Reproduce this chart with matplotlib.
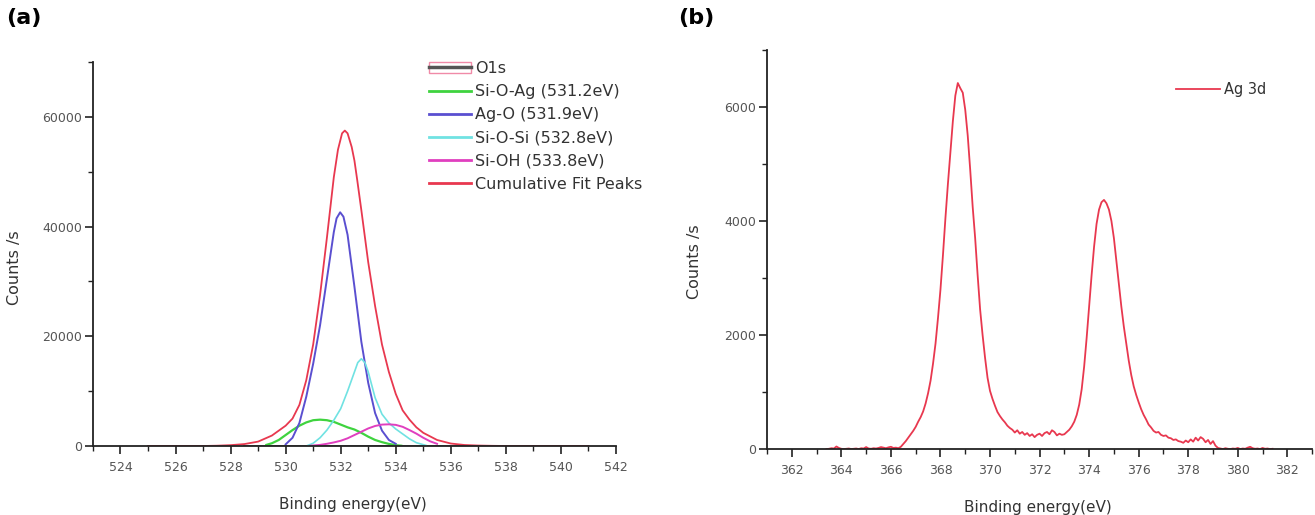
import numpy as np
import matplotlib
matplotlib.use("Agg")
import matplotlib.pyplot as plt
from matplotlib.patches import Patch
from matplotlib.lines import Line2D
from matplotlib.ticker import MultipleLocator

# ---- (a) O1s fit ----
o1s_be = [528.5, 529.5, 530.5, 531.5, 532.5, 533.5, 534.5, 535.5, 536.5]
o1s_counts = [0, 0, 0, 0, 0, 0, 0, 0, 0]

cum_be = [525, 526, 527, 527.5, 528, 528.5, 529, 529.5, 530, 530.25, 530.5, 530.75,
          531, 531.25, 531.5, 531.75, 531.9, 532.05, 532.15, 532.25, 532.4, 532.5,
          532.6, 532.75, 533, 533.25, 533.5, 533.75, 534, 534.25, 534.5, 534.75,
          535, 535.5, 536, 536.5, 537, 537.5, 538, 539, 540, 541]
cum_counts = [0, 0, 0, 50, 150, 350, 800, 1900, 3700, 5000, 7500, 12000,
              18500, 27500, 38000, 49000, 54000, 57000, 57500, 57000, 54500, 52000,
              48500, 43000, 33500, 25500, 18500, 13500, 9500, 6500, 4800, 3400,
              2400, 1100, 450, 180, 80, 30, 0, 0, 0, 0]

sioag_be = [529.3, 529.5, 529.75, 530, 530.25, 530.5, 530.75, 531, 531.25, 531.5,
            531.75, 532, 532.25, 532.5, 532.75, 533, 533.25, 533.5, 533.75, 534, 534.2]
sioag_counts = [200, 500, 1100, 2000, 2900, 3700, 4300, 4700, 4800, 4700,
                4400, 3900, 3400, 3000, 2400, 1700, 1100, 700, 380, 150, 50]

ago_be = [530, 530.25, 530.5, 530.75, 531, 531.25, 531.5, 531.75, 531.85, 531.98,
          532.1, 532.25, 532.5, 532.75, 533, 533.25, 533.5, 533.75, 534]
ago_counts = [300, 1500, 4200, 9000, 15000, 22000, 30500, 39000, 41500, 42600,
              41800, 38500, 29000, 19000, 11500, 6000, 2800, 1100, 400]

siosi_be = [530.8, 531, 531.25, 531.5, 531.75, 532, 532.25, 532.5, 532.62, 532.75,
            532.88, 533, 533.25, 533.5, 533.75, 534, 534.25, 534.5, 534.75, 535.1]
siosi_counts = [100, 500, 1500, 2900, 4700, 6800, 10000, 13500, 15200, 15900,
                15200, 13500, 8800, 5800, 4200, 3100, 2200, 1300, 600, 100]

sioh_be = [530.9, 531.25, 531.5, 531.75, 532, 532.25, 532.5, 532.75, 533, 533.25,
           533.5, 533.75, 534, 534.25, 534.5, 534.75, 535, 535.25, 535.5]
sioh_counts = [50, 200, 400, 650, 950, 1400, 2000, 2600, 3200, 3650,
               3900, 3950, 3850, 3500, 2900, 2250, 1500, 850, 400]

# ---- (b) Ag 3d spectrum, 0.1 eV steps from 363.4 to 381.4 ----
ag_be = np.round(np.linspace(363.4, 381.4, 181), 1)
ag_counts = [
    0, 5, 15, 10, 45, 20, 5, 0, 5, 10,
    0, 5, 10, 0, 15, 10, 35, 10, 5, 15,
    10, 20, 35, 25, 15, 30, 40, 20, 25, 15,
    40, 90, 140, 200, 260, 320, 390, 480, 560, 660,
    800, 980, 1200, 1500, 1850, 2300, 2800, 3400, 4050, 4650,
    5200, 5750, 6200, 6420, 6330, 6250, 5950, 5500, 4900, 4250,
    3700, 3050, 2450, 2000, 1600, 1250, 1020, 880, 760, 650,
    580, 520, 470, 410, 370, 340, 290, 330, 270, 300,
    250, 280, 230, 260, 210, 250, 270, 230, 280, 300,
    260, 330, 300, 240, 270, 250, 260, 300, 340, 400,
    480, 600, 780, 1050, 1450, 1950, 2500, 3050, 3550, 3950,
    4200, 4330, 4370, 4310, 4200, 4000, 3700, 3300, 2900, 2500,
    2150, 1850, 1550, 1300, 1100, 950, 820, 700, 600, 520,
    430, 380, 320, 290, 300, 250, 230, 240, 200, 190,
    160, 170, 140, 130, 110, 150, 120, 170, 130, 200,
    150, 210, 180, 120, 160, 90, 140, 60, 20, 10,
    0, 15, 5, 0, 10, 5, 20, 0, 10, 5,
    25, 40, 15, 5, 10, 0, 20, 5, 10, 0,
    5,
]

RED = "#e8384f"
TXT = "#333333"

fig = plt.figure(figsize=(13.15, 5.15), dpi=100)
ax1 = fig.add_axes([0.0707, 0.134, 0.3977, 0.7456])
ax2 = fig.add_axes([0.5833, 0.128, 0.4145, 0.775])


def style(ax, major, minor_x, minor_y):
    for s in ["top", "right"]:
        ax.spines[s].set_visible(False)
    for s in ["left", "bottom"]:
        ax.spines[s].set_linewidth(1.3)
        ax.spines[s].set_color("#222222")
    ax.xaxis.set_major_locator(MultipleLocator(major))
    ax.xaxis.set_minor_locator(MultipleLocator(minor_x))
    ax.yaxis.set_minor_locator(MultipleLocator(minor_y))
    ax.tick_params(which="major", direction="out", length=6, width=1.2,
                   colors="#222222", labelcolor="#555555", labelsize=9)
    ax.tick_params(axis="x", which="major", pad=5)
    ax.tick_params(axis="y", which="major", pad=2)
    ax.tick_params(which="minor", direction="out", length=3.5, width=1.0,
                   colors="#222222")


# (a)
ax1.plot(o1s_be, o1s_counts, color="#555555", lw=1.2)
ax1.plot(sioag_be, sioag_counts, color="#3fd33f", lw=1.6)
ax1.plot(ago_be, ago_counts, color="#5a4fd0", lw=1.4)
ax1.plot(siosi_be, siosi_counts, color="#70e2e2", lw=1.2)
ax1.plot(sioh_be, sioh_counts, color="#e03fbf", lw=1.4)
ax1.plot(cum_be, cum_counts, color=RED, lw=1.3)
ax1.set_xlim(523, 542)
ax1.set_ylim(0, 70000)
ax1.yaxis.set_major_locator(MultipleLocator(20000))
style(ax1, 2, 1, 10000)
ax1.set_xlabel("Binding energy(eV)", fontsize=11, color=TXT)
ax1.set_ylabel("Counts /s", fontsize=11.5, color=TXT)
ax1.xaxis.set_label_coords(0.497, -0.133)
ax1.yaxis.set_label_coords(-0.135, 0.465)

o1s_handle = (Patch(facecolor="white", edgecolor="#f08aa8", lw=1.0),
              Line2D([], [], color="#555555", lw=2.5))
handles = [o1s_handle,
           Line2D([], [], color="#3fd33f", lw=2),
           Line2D([], [], color="#5a4fd0", lw=2),
           Line2D([], [], color="#70e2e2", lw=2),
           Line2D([], [], color="#e03fbf", lw=2),
           Line2D([], [], color=RED, lw=2)]
labels = ["O1s", "Si-O-Ag (531.2eV)", "Ag-O (531.9eV)", "Si-O-Si (532.8eV)",
          "Si-OH (533.8eV)", "Cumulative Fit Peaks"]
leg1 = ax1.legend(handles, labels, loc="upper left",
                  bbox_to_anchor=(429 / 1315, 1 - 61 / 515),
                  bbox_transform=fig.transFigure, frameon=False, fontsize=11.5,
                  handlelength=2.6, handletextpad=0.3, labelspacing=0.51,
                  borderpad=0, borderaxespad=0)
for t in leg1.get_texts():
    t.set_color(TXT)

# (b)
ax2.plot(ag_be, ag_counts, color=RED, lw=1.3, label="Ag 3d")
ax2.set_xlim(361, 383)
ax2.set_ylim(0, 7000)
ax2.yaxis.set_major_locator(MultipleLocator(2000))
style(ax2, 2, 1, 1000)
ax2.set_xlabel("Binding energy(eV)", fontsize=11, color=TXT)
ax2.set_ylabel("Counts /s", fontsize=11.5, color=TXT)
ax2.xaxis.set_label_coords(0.497, -0.128)
ax2.yaxis.set_label_coords(-0.12, 0.47)
leg2 = ax2.legend(loc="upper left", bbox_to_anchor=(1176 / 1315, 1 - 82 / 515),
                  bbox_transform=fig.transFigure, frameon=False, fontsize=10.5,
                  handlelength=3.0, handletextpad=0.3, borderpad=0,
                  borderaxespad=0)
for t in leg2.get_texts():
    t.set_color(TXT)

fig.text(0.005, 0.985, "(a)", fontsize=16, fontweight="bold", va="top", ha="left")
fig.text(0.516, 0.985, "(b)", fontsize=16, fontweight="bold", va="top", ha="left")

fig.savefig("out.png", dpi=100)
